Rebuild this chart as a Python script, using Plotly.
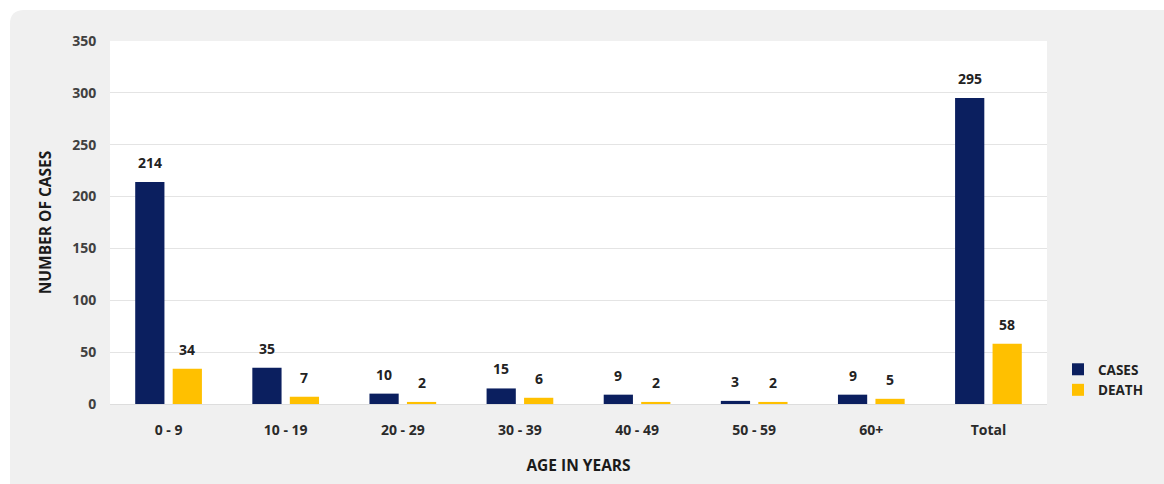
import plotly.graph_objects as go

# Age groups and counts
age_groups = ["0 - 9", "10 - 19", "20 - 29", "30 - 39", "40 - 49", "50 - 59", "60+", "Total"]
cases = [214, 35, 10, 15, 9, 3, 9, 295]
deaths = [34, 7, 2, 6, 2, 2, 5, 58]

NAVY = "#0b1f5f"
GOLD = "#ffc000"
FONT = "Open Sans"

W, H = 1164, 484
ML, MR, MT, MB = 110, 117, 41, 80
PW, PH = W - ML - MR, H - MT - MB


def px_x(px):
    return (px - ML) / PW


def px_y(py):
    return (H - MB - py) / PH


def rounded_rect(x0, y0, x1, y1, r):
    # path in paper units from pixel corners (top-left rounded)
    ax0, ax1 = px_x(x0), px_x(x1)
    ay0, ay1 = px_y(y0), px_y(y1)
    rx, ry = r / PW, r / PH
    return (f"M {ax0},{ay0 - ry} Q {ax0},{ay0} {ax0 + rx},{ay0} "
            f"L {ax1},{ay0} L {ax1},{ay1} L {ax0},{ay1} Z")


fig = go.Figure()
fig.add_trace(go.Bar(x=age_groups, y=cases, name="CASES", marker_color=NAVY,
                     marker_line_width=0))
fig.add_trace(go.Bar(x=age_groups, y=deaths, name="DEATH", marker_color=GOLD,
                     marker_line_width=0))

# value labels above each bar
for series, shift in ((cases, -18.7), (deaths, 18.7)):
    for cat, v in zip(age_groups, series):
        fig.add_annotation(x=cat, y=v, xref="x", yref="y", text=str(v),
                           showarrow=False, xshift=shift, yshift=8,
                           yanchor="bottom",
                           font=dict(family=FONT, size=14, color="#222222", weight="bold"))

fig.update_layout(
    width=W, height=H,
    margin=dict(l=ML, r=MR, t=MT, b=MB, autoexpand=False),
    paper_bgcolor="white",
    plot_bgcolor="white",
    barmode="group",
    bargap=0.36,
    bargroupgap=0.22,
    showlegend=True,
    legend=dict(x=px_x(1058), y=px_y(354), xanchor="left", yanchor="top",
                bgcolor="rgba(0,0,0,0)", itemwidth=30, tracegroupgap=0,
                font=dict(family=FONT, size=13.5, color="#222222", weight="bold")),
    shapes=[
        dict(type="path", xref="paper", yref="paper", layer="below",
             path=rounded_rect(10, 10, W + 20, H + 20, 14),
             fillcolor="#f0f0f0", line=dict(width=0)),
        dict(type="rect", xref="paper", yref="paper", layer="below",
             x0=0, x1=1, y0=0, y1=1, fillcolor="white", line=dict(width=0)),
    ],
    xaxis=dict(
        title=dict(text="AGE IN YEARS", standoff=22,
                   font=dict(family=FONT, size=15.5, color="#1a1a1a", weight="bold")),
        tickfont=dict(family=FONT, size=14, color="#2a2a2a", weight="bold"),
        ticks="outside", ticklen=13, tickcolor="rgba(0,0,0,0)",
        showline=False, showgrid=False,
    ),
    yaxis=dict(
        title=dict(text="NUMBER OF CASES", standoff=16,
                   font=dict(family=FONT, size=15.5, color="#1a1a1a", weight="bold")),
        range=[0, 350], dtick=50,
        tickfont=dict(family=FONT, size=14, color="#404040", weight="bold"),
        ticks="outside", ticklen=10, tickcolor="rgba(0,0,0,0)",
        gridcolor="#e4e4e4", gridwidth=1,
        zeroline=True, zerolinecolor="#dddddd", zerolinewidth=1,
        showline=False,
    ),
)

fig.write_html("out.html")
